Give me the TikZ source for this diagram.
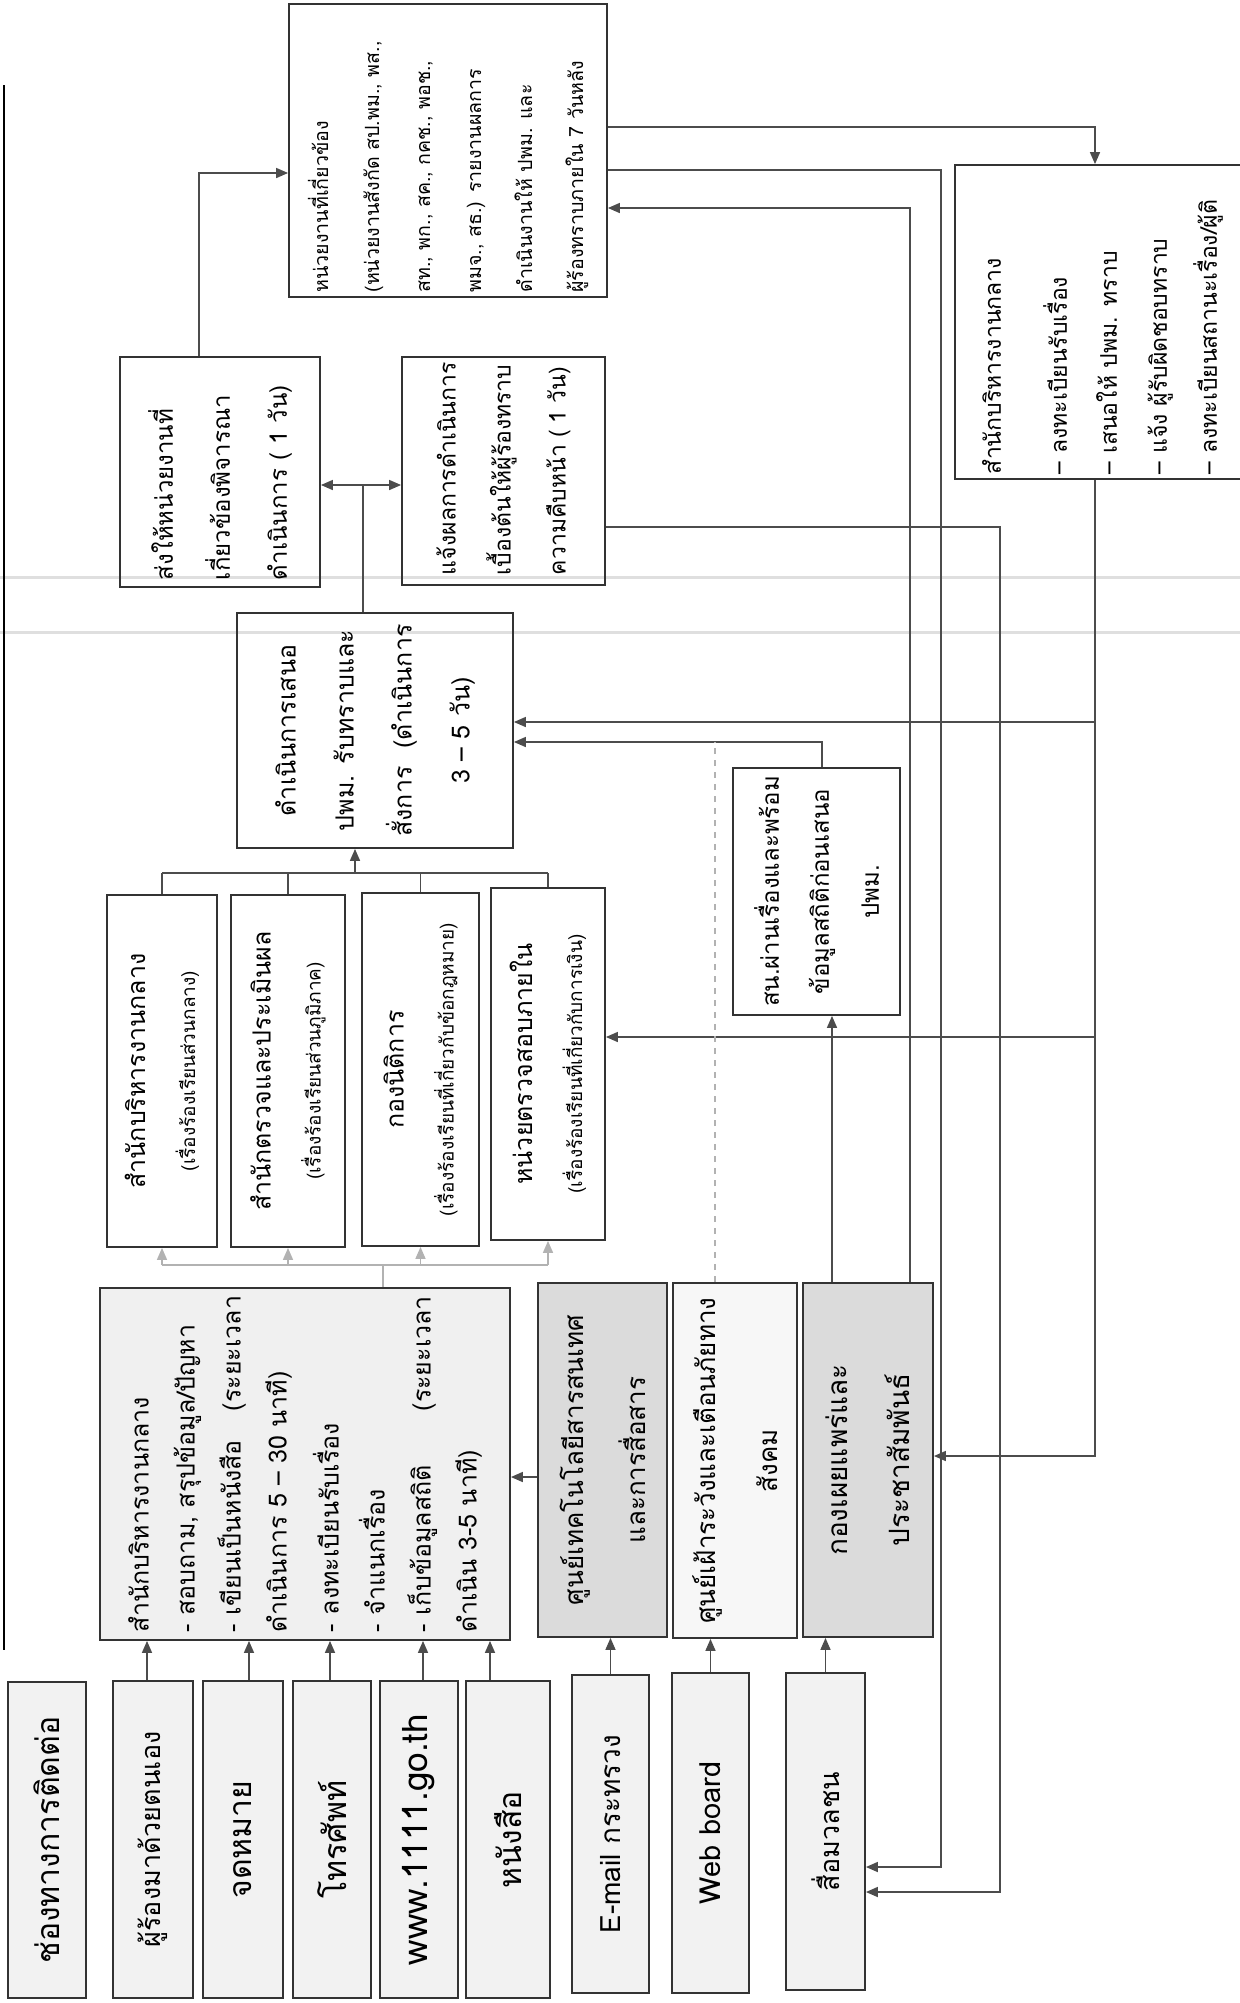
\documentclass[tikz,border=0pt]{standalone}
\usepackage{fontspec}
\usepackage{graphicx}
\setmainfont[Script=Thai]{Loma}
\usetikzlibrary{arrows.meta}
\newcommand{\vtext}[2]{\rotatebox{90}{\parbox{#1}{#2}}}
\newcommand{\smallline}{\fontsize{9.5}{25}\selectfont}

\begin{document}
\begin{tikzpicture}[x=0.5pt,y=-0.5pt,
  box/.style={draw=black!80, line width=0.9pt, inner sep=0pt},
  chan/.style={box, fill=gray!10, font=\fontsize{16}{18}\selectfont},
  shade/.style={box, fill=gray!28, font=\fontsize{13}{31}\selectfont},
  dept/.style={box, font=\fontsize{12.5}{25}\selectfont},
  link/.style={draw=black!70, line width=0.8pt},
  arr/.style={link, -{Triangle[length=6pt,width=5pt]}}]
\useasboundingbox (0,0) rectangle (1240,2003);
\clip (0,0) rectangle (1240,2003);

% scan marks
\draw[gray!25, line width=1.5pt] (0,577) -- (1240,577);
\draw[gray!25, line width=1.5pt] (0,632) -- (1240,632);
\draw[line width=1pt] (4,85) -- (4,1650);

% channels
\node[chan, minimum width=39pt, minimum height=158pt] (ch0) at (47,1840) {\rotatebox{90}{ช่องทางการติดต่อ}};
\node[chan, minimum width=40pt, minimum height=158.5pt, font=\fontsize{13.5}{18}\selectfont] (ch1) at (153,1839.5) {\rotatebox{90}{ผู้ร้องมาด้วยตนเอง}};
\node[chan, minimum width=40pt, minimum height=158.5pt] (ch2) at (243,1839.5) {\rotatebox{90}{จดหมาย}};
\node[chan, minimum width=39pt, minimum height=158.5pt] (ch3) at (332,1839.5) {\rotatebox{90}{โทรศัพท์}};
\node[chan, minimum width=39pt, minimum height=158.5pt, font=\fontsize{17.5}{18}\selectfont] (ch4) at (419,1839.5) {\rotatebox{90}{www.1111.go.th}};
\node[chan, minimum width=42pt, minimum height=158.5pt] (ch5) at (508,1839.5) {\rotatebox{90}{หนังสือ}};
\node[chan, minimum width=38.5pt, minimum height=159pt, font=\fontsize{14}{18}\selectfont] (ch6) at (610.5,1834) {\rotatebox{90}{E-mail กระทรวง}};
\node[chan, minimum width=38.5pt, minimum height=160pt, font=\fontsize{14.5}{18}\selectfont] (ch7) at (710.5,1833) {\rotatebox{90}{Web board}};
\node[chan, minimum width=39.5pt, minimum height=158.5pt, font=\fontsize{13.5}{18}\selectfont] (ch8) at (825.5,1831.5) {\rotatebox{90}{สื่อมวลชน}};

% receiving units
\node[box, fill=gray!12, minimum width=205pt, minimum height=176pt, font=\fontsize{12.5}{23}\selectfont] (g0) at (305,1464)
  {\vtext{168pt}{\raggedright สำนักบริหารงานกลาง\\
  - สอบถาม, สรุปข้อมูล/ปัญหา\\
  - เขียนเป็นหนังสือ\hfill(ระยะเวลา\\
  ดำเนินการ 5 – 30 นาที)\\[3pt]
  - ลงทะเบียนรับเรื่อง\\
  - จำแนกเรื่อง\\
  - เก็บข้อมูลสถิติ\hfill(ระยะเวลา\\
  ดำเนิน 3-5 นาที)}};
\node[shade, minimum width=64.5pt, minimum height=177pt] (gA) at (602.5,1460)
  {\vtext{170pt}{\centering ศูนย์เทคโนโลยีสารสนเทศ\\และการสื่อสาร}};
\node[shade, fill=gray!6, minimum width=62pt, minimum height=177.5pt] (gB) at (735,1460.5)
  {\vtext{170pt}{\centering ศูนย์เฝ้าระวังและเตือนภัยทาง\\สังคม}};
\node[shade, minimum width=65pt, minimum height=177pt, font=\fontsize{14}{31}\selectfont] (gC) at (868,1460)
  {\vtext{170pt}{\centering กองเผยแพร่และ\\ประชาสัมพันธ์}};

% responsible units
\node[dept, minimum width=55pt, minimum height=176pt] (b1) at (162,1071)
  {\vtext{170pt}{\centering สำนักบริหารงานกลาง\\\smallline (เรื่องร้องเรียนส่วนกลาง)}};
\node[dept, minimum width=57pt, minimum height=176pt] (b2) at (288,1071)
  {\vtext{170pt}{\centering สำนักตรวจและประเมินผล\\\smallline (เรื่องร้องเรียนส่วนภูมิภาค)}};
\node[dept, minimum width=58.5pt, minimum height=176.5pt] (b3) at (420.5,1069.5)
  {\vtext{170pt}{\centering กองนิติการ\\\smallline (เรื่องร้องเรียนที่เกี่ยวกับข้อกฎหมาย)}};
\node[dept, minimum width=57pt, minimum height=176pt] (b4) at (548,1064)
  {\vtext{170pt}{\centering หน่วยตรวจสอบภายใน\\\smallline (เรื่องร้องเรียนที่เกี่ยวกับการเงิน)}};

\node[box, minimum width=138pt, minimum height=117.5pt, font=\fontsize{12.5}{29}\selectfont] (p) at (375,730.5)
  {\vtext{106pt}{\centering ดำเนินการเสนอ\\ปพม. รับทราบและ\\สั่งการ\hfill(ดำเนินการ\\3 – 5 วัน)}};
\node[box, minimum width=83.5pt, minimum height=123.5pt, font=\fontsize{12}{25}\selectfont] (q) at (816.5,891.5)
  {\vtext{116pt}{\centering สน.ผ่านเรื่องและพร้อม\\ข้อมูลสถิติก่อนเสนอ\\ปพม.}};
\node[box, minimum width=100pt, minimum height=115pt, font=\fontsize{12}{28.5}\selectfont] (s) at (220,472)
  {\vtext{108pt}{\raggedright ส่งให้หน่วยงานที่\\เกี่ยวข้องพิจารณา\\ดำเนินการ ( 1 วัน)}};
\node[box, minimum width=101.5pt, minimum height=114pt, font=\fontsize{11.5}{27.5}\selectfont] (r) at (503.5,471)
  {\vtext{104pt}{\raggedright แจ้งผลการดำเนินการ\\เบื้องต้นให้ผู้ร้องทราบ\\ความคืบหน้า ( 1 วัน)}};
\node[box, minimum width=159pt, minimum height=146.5pt, font=\fontsize{9.8}{25.5}\selectfont] (h) at (448,150.5)
  {\vtext{142pt}{\raggedright หน่วยงานที่เกี่ยวข้อง\\
  (หน่วยงานสังกัด สป.พม., พส.,\\
  สท., พก., สค., กคช., พอช.,\\
  พมจ., สธ.) รายงานผลการ\\
  ดำเนินงานให้ ปพม. และ\\
  ผู้ร้องทราบภายใน 7 วันหลัง}};
\node[box, minimum width=147.5pt, minimum height=157pt, font=\fontsize{11.5}{25}\selectfont] (m) at (1102.5,322)
  {\vtext{152pt}{\raggedright สำนักบริหารงานกลาง\\[8pt]
  – ลงทะเบียนรับเรื่อง\\
  – เสนอให้ ปพม. ทราบ\\
  – แจ้ง ผู้รับผิดชอบทราบ\\
  – ลงทะเบียนสถานะเรื่อง/ผู้ติ}};

% junctions
\coordinate (bus1) at (383,1265);
\coordinate (bus2) at (355,873);
\coordinate (j1) at (363,485);
\coordinate (j2) at (199,173);
\coordinate (j3) at (1095,127);
\coordinate (j4) at (941,170);
\coordinate (j5) at (941,1867);
\coordinate (j6) at (910,208);
\coordinate (j7) at (1000,527);
\coordinate (j8) at (1000,1892);
\coordinate (j9) at (1095,1456);
\coordinate (j10) at (1095,722);
\coordinate (j11) at (1095,1037);
\coordinate (j12) at (822,742);
\coordinate (j13) at (715,742);

% channels in
\foreach \c/\dx in {ch1/-3,ch2/3,ch3/-1,ch4/2,ch5/-9}
  \draw[arr] ([xshift=\dx pt]\c.north) -- ([xshift=\dx pt]\c.north |- g0.south);
\draw[arr] (ch6.north) -- (ch6.north |- gA.south);
\draw[arr] (ch7.north) -- (ch7.north |- gB.south);
\draw[arr] (ch8.north) -- (ch8.north |- gC.south);
\draw[arr] ([yshift=-8.5pt]gA.west) -- ([yshift=-8.5pt]gA.west -| g0.east);

% sorting to units
\draw[link, draw=gray!60] (g0.north -| bus1) -- (bus1);
\draw[link, draw=gray!60] (b1.south |- bus1) -- (b4.south |- bus1);
\foreach \b in {b1,b2,b3,b4}
  \draw[arr, draw=gray!60] (\b.south |- bus1) -- (\b.south);
\foreach \b in {b1,b2,b3,b4}
  \draw[link] (\b.north) -- (\b.north |- bus2);
\draw[link] (b1.north |- bus2) -- (b4.north |- bus2);
\draw[arr] (bus2) -- (bus2 |- p.south);

% after approval
\draw[link] (p.north -| j1) -- (j1);
\draw[arr] (j1) -- (j1 -| s.east);
\draw[arr] (j1) -- (j1 -| r.west);
\draw[arr] (s.north -| j2) -- (j2) -- (j2 -| h.west);
\draw[arr] (h.east |- j3) -- (j3) -- (j3 |- m.north);
\draw[arr] (h.east |- j4) -- (j4) -- (j5) -- (j5 -| ch8.east);
\draw[arr] (gC.north -| j6) -- (j6) -- (j6 -| h.east);
\draw[arr] (r.east |- j7) -- (j7) -- (j8) -- (j8 -| ch8.east);

% feedback from the right
\draw[arr] (m.south -| j9) -- (j9) -- (j9 -| gC.east);
\draw[arr] (j10) -- (j10 -| p.east);
\draw[arr] (j11) -- (j11 -| b4.east);
\draw[arr] (q.north -| j12) -- (j12) -- (j12 -| p.east);
\draw[link, dashed, draw=gray!60] (gB.north -| j13) -- (j13);
\draw[arr] ([xshift=-18pt]gC.north) -- ([xshift=-18pt]gC.north |- q.south);
\end{tikzpicture}
\end{document}
